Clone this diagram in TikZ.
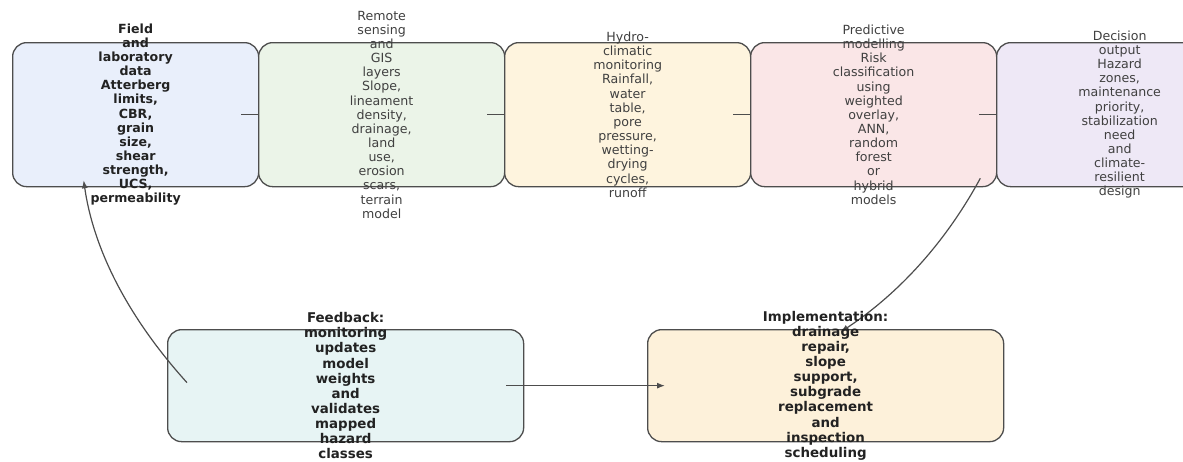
\documentclass[tikz,border=0pt]{standalone}
\usepackage{fontspec}
\setmainfont{DejaVu Sans}
\usetikzlibrary{arrows.meta,calc}
\definecolor{fA}{HTML}{E9EFFB}
\definecolor{fB}{HTML}{EBF4E8}
\definecolor{fC}{HTML}{FEF4DE}
\definecolor{fD}{HTML}{FAE6E7}
\definecolor{fE}{HTML}{EEE8F6}
\definecolor{fF}{HTML}{E7F4F4}
\definecolor{fG}{HTML}{FDF1DA}
\definecolor{edge}{HTML}{4D4D4D}
\definecolor{ink}{HTML}{222222}
\definecolor{inkl}{HTML}{404040}
\begin{document}
\begin{tikzpicture}[x=1pt,y=-1pt,
  topbox/.style={draw=edge,line width=1.3pt,rounded corners=14pt,minimum width=246pt,minimum height=144pt,inner sep=0pt,anchor=north west},
  botbox/.style={draw=edge,line width=1.3pt,rounded corners=14pt,minimum width=356pt,minimum height=112pt,inner sep=0pt,anchor=north west},
  toptxt/.style={align=center,inner sep=0pt,text=inkl,font=\fontsize{12.6}{14.15}\selectfont},
  toptxtb/.style={align=center,inner sep=0pt,text=ink,font=\fontsize{12.6}{14.15}\selectfont\bfseries},
  bottxt/.style={align=center,inner sep=0pt,text=ink,font=\fontsize{13.4}{15.1}\selectfont\bfseries},
  link/.style={draw=edge,line width=1.2pt},
  arr/.style={draw=edge,line width=1.2pt,-{Latex[length=8pt,width=6pt]}}]
\useasboundingbox (0,0) rectangle (1183,461);
\clip (0,0) rectangle (1183,461);
\fill[white] (0,0) rectangle (1183,461);
% top row boxes
\node[topbox,fill=fA] (b1) at (12,42) {};
\node[topbox,fill=fB] (b2) at (258,42) {};
\node[topbox,fill=fC] (b3) at (504,42) {};
\node[topbox,fill=fD] (b4) at (750,42) {};
\node[topbox,fill=fE] (b5) at (996,42) {};
% bottom boxes
\node[botbox,fill=fF] (fb) at (167,329) {};
\node[botbox,fill=fG] (im) at (647,329) {};
% connectors between top boxes
\draw[link] ($(b1.east)+(-18,0)$) -- (b2.west);
\draw[link] ($(b2.east)+(-18,0)$) -- (b3.west);
\draw[link] ($(b3.east)+(-18,0)$) -- (b4.west);
\draw[link] ($(b4.east)+(-18,0)$) -- (b5.west);
% bottom connectors
\coordinate (fbS) at ($(fb.east)+(-18,0)$);
\coordinate (imE) at ($(im.west)+(18,0)$);
\draw[arr] (fbS) -- (imE);
\coordinate (fbA) at ($(fb.west)+(20,-3)$);
\coordinate (b1E) at ($(b1.south)+(-52,-7)$);
\coordinate (c1a) at (128.3,317.7);
\coordinate (c1b) at (93.7,250);
\draw[arr] (fbA) .. controls (c1a) and (c1b) .. (b1E);
\coordinate (b4S) at ($(b4.south east)+(-17,-9)$);
\coordinate (imN) at ($(im.north)+(15,3)$);
\coordinate (c2a) at (946.3,241);
\coordinate (c2b) at (900,292.7);
\draw[arr] (b4S) .. controls (c2a) and (c2b) .. (imN);
% texts
\node[toptxtb] (t1) at (b1.center) {Field\\and\\laboratory\\data\\Atterberg\\limits,\\CBR,\\grain\\size,\\shear\\strength,\\UCS,\\permeability};
\node[toptxt] (t2) at (b2.center) {Remote\\sensing\\and\\GIS\\layers\\Slope,\\lineament\\density,\\drainage,\\land\\use,\\erosion\\scars,\\terrain\\model};
\node[toptxt] (t3) at (b3.center) {Hydro-\\climatic\\monitoring\\Rainfall,\\water\\table,\\pore\\pressure,\\wetting-\\drying\\cycles,\\runoff};
\node[toptxt] (t4) at (b4.center) {Predictive\\modelling\\Risk\\classification\\using\\weighted\\overlay,\\ANN,\\random\\forest\\or\\hybrid\\models};
\node[toptxt] (t5) at (b5.center) {Decision\\output\\Hazard\\zones,\\maintenance\\priority,\\stabilization\\need\\and\\climate-\\resilient\\design};
\node[bottxt] (t6) at (fb.center) {Feedback:\\monitoring\\updates\\model\\weights\\and\\validates\\mapped\\hazard\\classes};
\node[bottxt] (t7) at (im.center) {Implementation:\\drainage\\repair,\\slope\\support,\\subgrade\\replacement\\and\\inspection\\scheduling};
\end{tikzpicture}
\end{document}
